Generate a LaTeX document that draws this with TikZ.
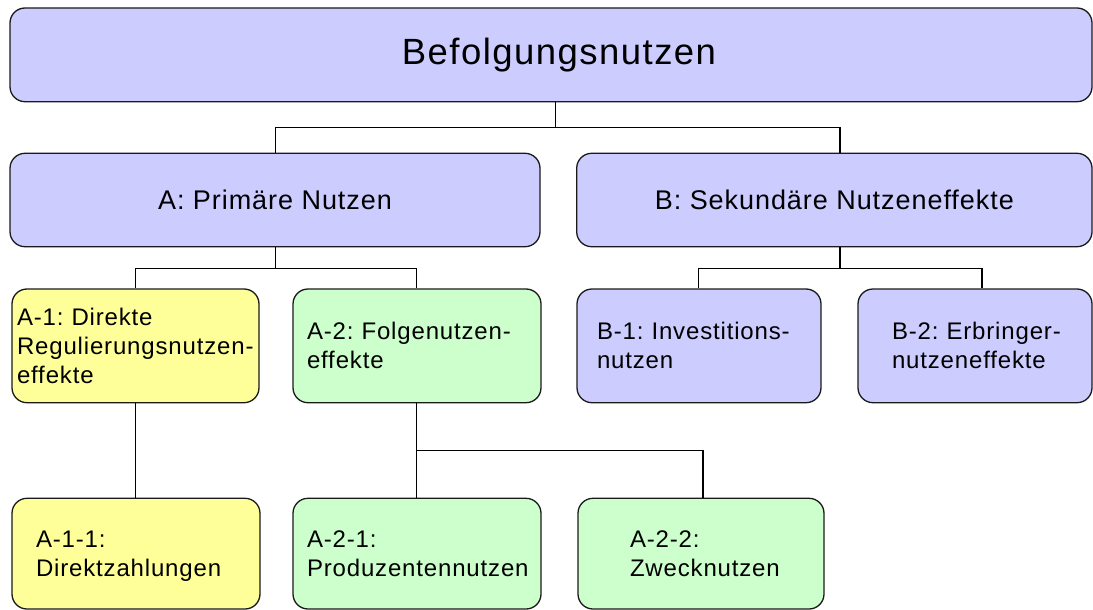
\documentclass[tikz,border=0pt]{standalone}
\usepackage{fontspec}
\setmainfont{Liberation Sans}
\newfontfamily\topfont{Liberation Sans}[LetterSpace=4]
\newfontfamily\bigfont{Liberation Sans}[LetterSpace=3.5]
\newfontfamily\smfont{Liberation Sans}[LetterSpace=3.5]
\definecolor{boxblue}{HTML}{CCCCFF}
\definecolor{boxyellow}{HTML}{FFFF99}
\definecolor{boxgreen}{HTML}{CCFFCC}
\definecolor{edge}{HTML}{1A1A1A}
\frenchspacing
\tikzset{
  box/.style={draw=edge, line width=1.3pt, rounded corners=15pt, inner ysep=0pt, anchor=center},
  topbox/.style={box, fill=boxblue, align=center, font=\topfont\fontsize{36.5}{40}\selectfont},
  midbox/.style={box, fill=boxblue, align=center, font=\bigfont\fontsize{27}{32}\selectfont\frenchspacing},
  leafbox/.style={box, align=left, font=\smfont\fontsize{24}{29}\selectfont\frenchspacing},
  conn/.style={draw=black, line width=1.3pt},
}
\begin{document}
\begin{tikzpicture}[x=1pt,y=-1pt]
\useasboundingbox (0,0) rectangle (1093,610);
% level 1
\node[topbox, minimum width=1082pt, minimum height=93.7pt] (top) at (551,54.85) {\hspace*{16pt}Befolgungsnutzen};
% level 2
\node[midbox, minimum width=530pt, minimum height=93.4pt] (A) at (275,200) {A: Primäre Nutzen};
\node[midbox, minimum width=515.3pt, minimum height=93.4pt] (B) at (834.35,200) {B: Sekundäre Nutzeneffekte};
% level 3
\node[leafbox, fill=boxyellow, minimum height=113.7pt, inner xsep=5pt, text width=237pt] (A1) at (135.5,345.85) {\mbox{A-1: Direkte}\\\mbox{Regulierungsnutzen-}\\effekte};
\node[leafbox, fill=boxgreen, minimum height=113.7pt, inner xsep=14pt, text width=220pt] (A2) at (417,345.85) {\mbox{A-2: Folgenutzen-}\\effekte};
\node[leafbox, fill=boxblue, minimum height=113.7pt, inner xsep=20pt, text width=204pt] (B1) at (699,345.85) {\mbox{B-1: Investitions-}\\nutzen};
\node[leafbox, fill=boxblue, minimum height=113.7pt, inner xsep=34pt, text width=166pt] (B2) at (975,345.85) {\mbox{B-2: Erbringer-}\\nutzeneffekte};
% level 4
\node[leafbox, fill=boxyellow, minimum height=110.7pt, inner xsep=24pt, text width=200pt] (A11) at (136,553.65) {A-1-1:\\\smash{Direktzahlungen}};
\node[leafbox, fill=boxgreen, minimum height=110.7pt, inner xsep=14pt, text width=220pt] (A21) at (417,553.65) {A-2-1:\\Produzentennutzen};
\node[leafbox, fill=boxgreen, minimum height=110.7pt, inner xsep=52pt, text width=142pt] (A22) at (701,553.65) {A-2-2:\\Zwecknutzen};
% bus coordinates
\coordinate (t0) at (555.7,127.7);
\coordinate (tA) at (275.7,127.7);
\coordinate (tB) at (840,127.7);
\coordinate (aL) at (135.7,268.3);
\coordinate (aM) at (275.7,268.3);
\coordinate (aR) at (416.7,268.3);
\coordinate (bL) at (698.7,268.3);
\coordinate (bM) at (840,268.3);
\coordinate (bR) at (982,268.3);
\coordinate (cL) at (416.7,450.7);
\coordinate (cR) at (703,450.7);
% connectors
\draw[conn] (top.south -| t0) -- (t0);
\draw[conn] (A.north -| tA) -- (tA) -- (tB) -- (B.north -| tB);
\draw[conn] (A.south -| aM) -- (aM);
\draw[conn] (A1.north -| aL) -- (aL) -- (aR) -- (A2.north -| aR);
\draw[conn] (B.south -| bM) -- (bM);
\draw[conn] (B1.north -| bL) -- (bL) -- (bR) -- (B2.north -| bR);
\draw[conn] (A1.south -| aL) -- (A11.north -| aL);
\draw[conn] (A2.south -| cL) -- (cL) -- (A21.north -| cL);
\draw[conn] (cL) -- (cR) -- (A22.north -| cR);
\end{tikzpicture}
\end{document}
